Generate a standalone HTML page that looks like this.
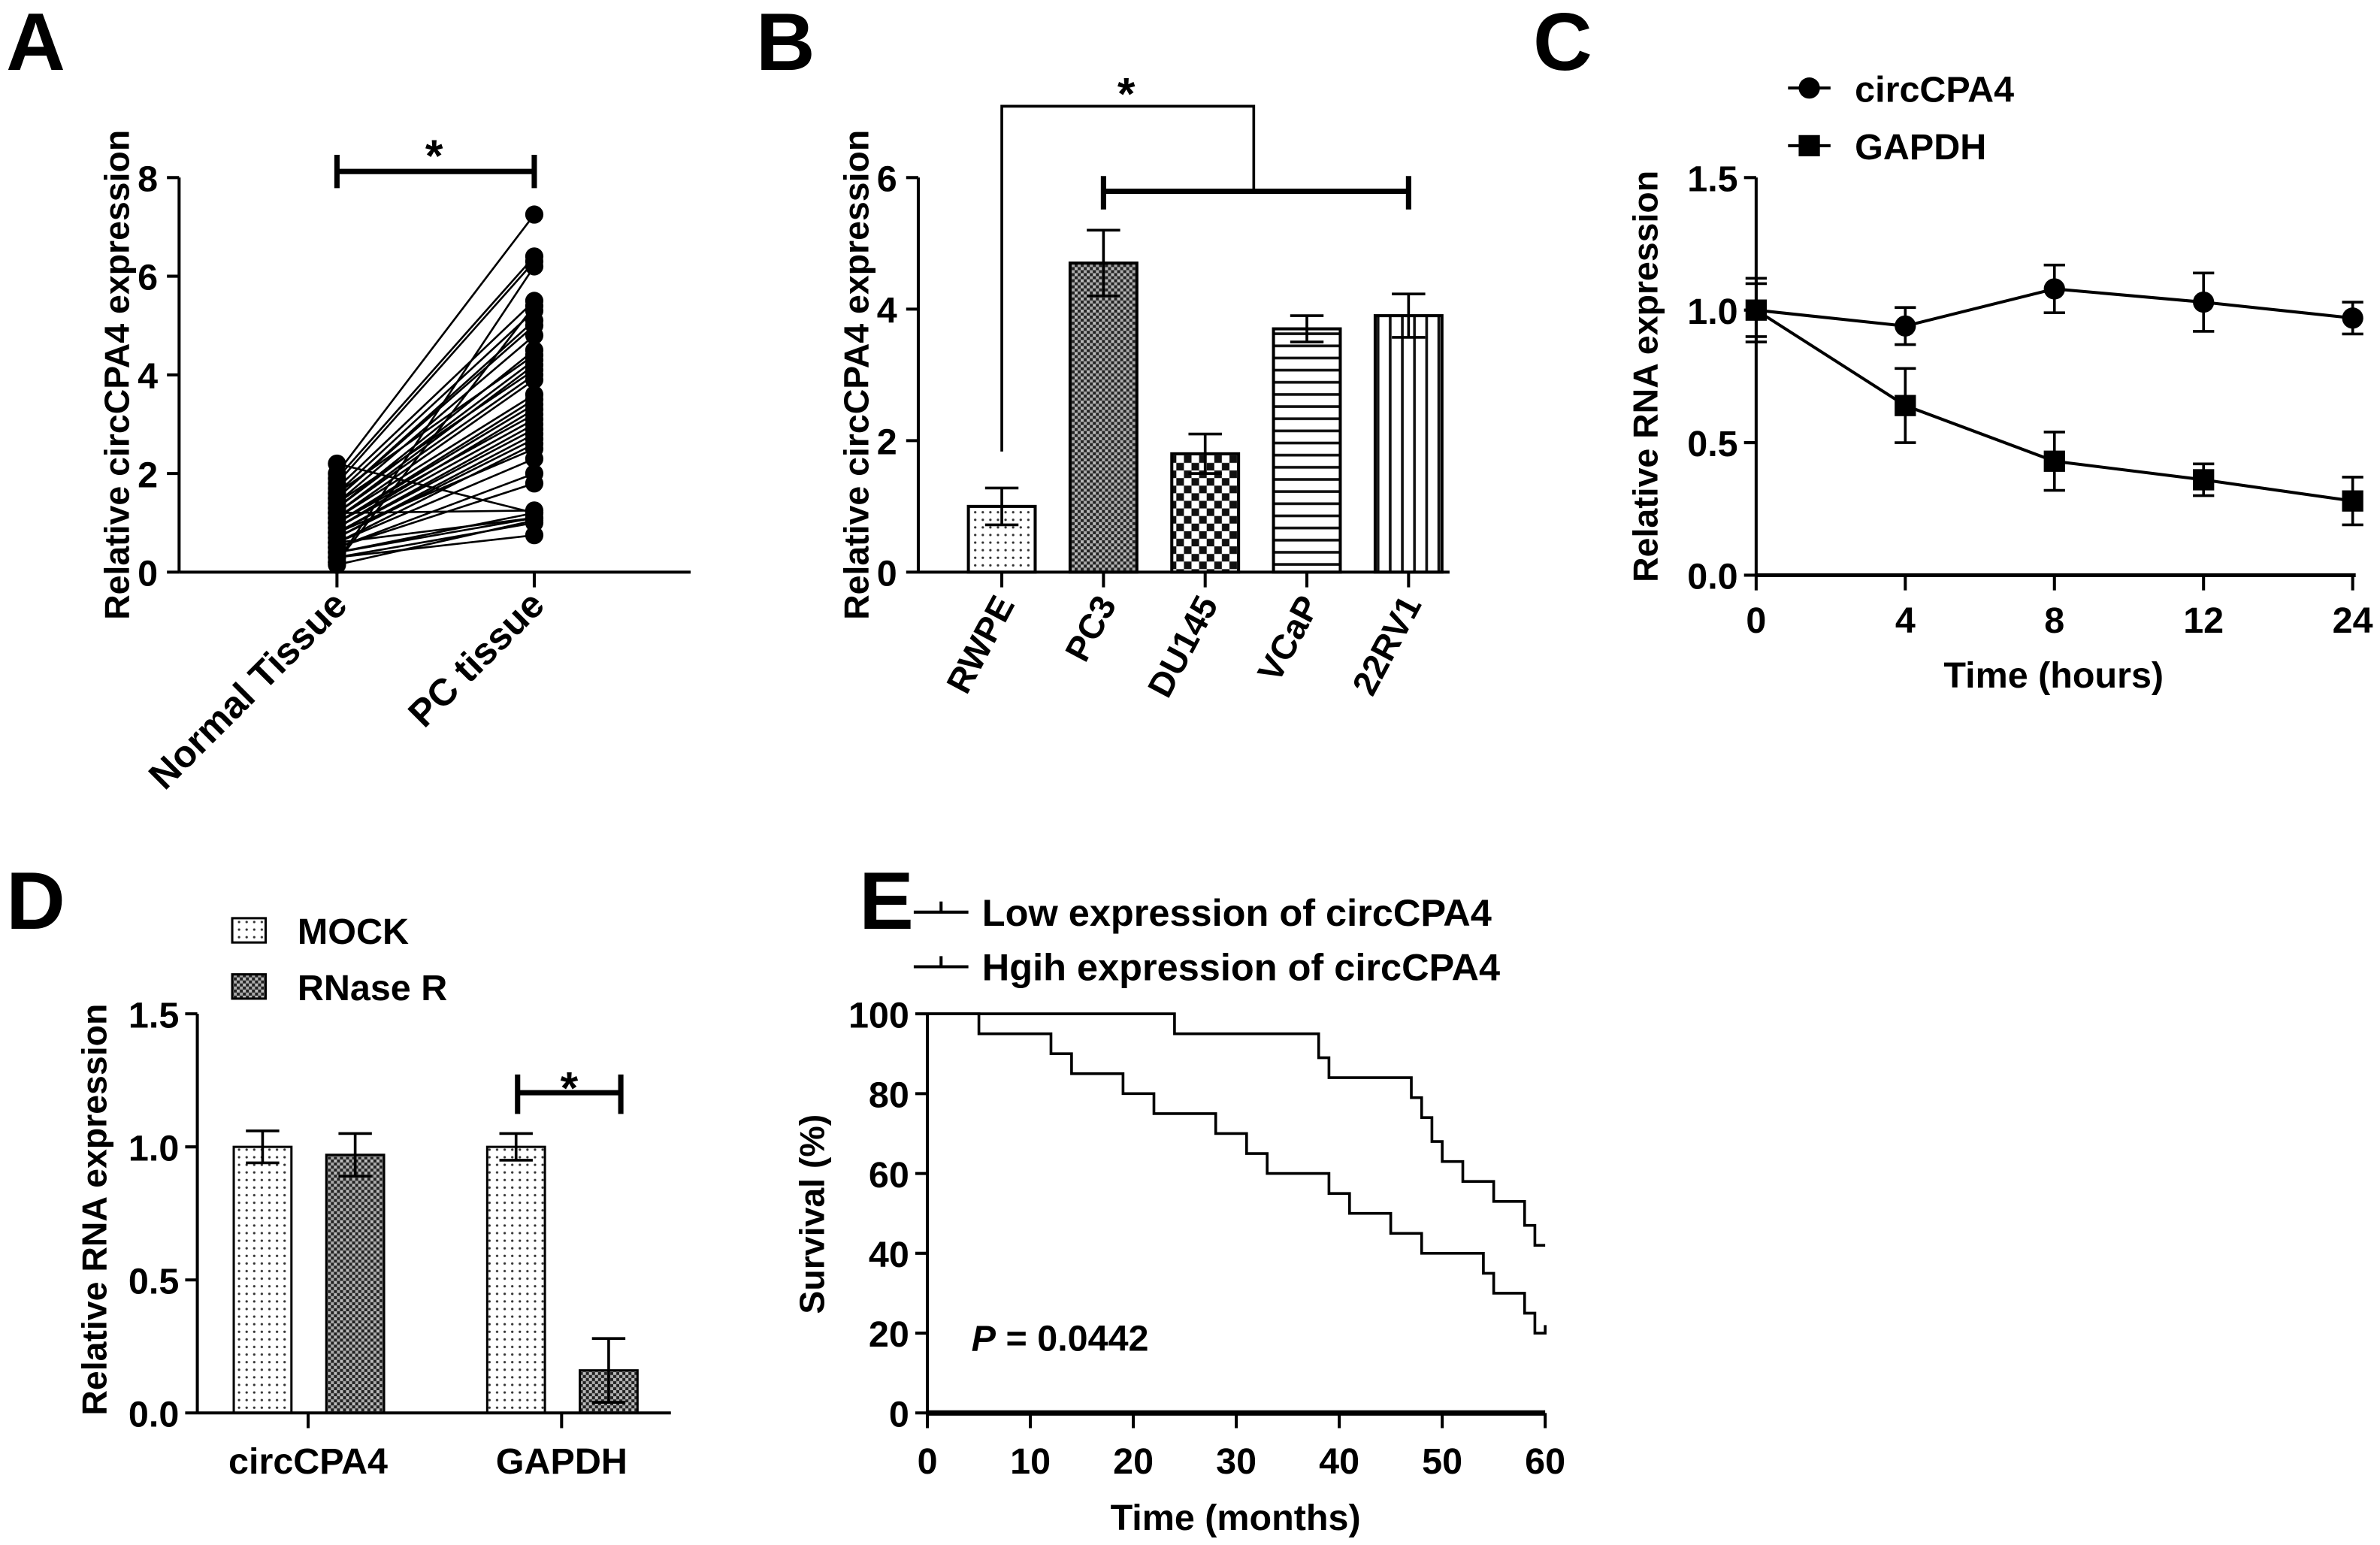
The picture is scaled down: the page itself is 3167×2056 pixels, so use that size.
<!DOCTYPE html>
<html><head><meta charset="utf-8">
<style>
html,body{margin:0;padding:0;background:#fff;}
svg{display:block;font-family:"Liberation Sans",Arial,sans-serif;font-weight:bold;}
</style></head>
<body>
<svg id="fig" width="3167" height="2056" viewBox="0 0 1568 1018" preserveAspectRatio="none" xmlns="http://www.w3.org/2000/svg">
<defs>
<pattern id="pDots" width="5" height="5" patternUnits="userSpaceOnUse"><rect width="5" height="5" fill="#fff"/><circle cx="2.5" cy="2.5" r="0.8" fill="#333"/></pattern>
<pattern id="pCross" width="4" height="4" patternUnits="userSpaceOnUse"><rect width="4" height="4" fill="#222"/><rect x="0" y="0" width="2" height="2" fill="#bbb"/><rect x="2" y="2" width="2" height="2" fill="#aaa"/></pattern>
<pattern id="pCheck" width="10" height="10" patternUnits="userSpaceOnUse"><rect width="10" height="10" fill="#fff"/><rect width="5" height="5" fill="#111"/><rect x="5" y="5" width="5" height="5" fill="#111"/></pattern>
<pattern id="pHoriz" width="8" height="8" patternUnits="userSpaceOnUse"><rect width="8" height="8" fill="#fff"/><rect y="3" width="8" height="1.8" fill="#111"/></pattern>
<pattern id="pVert" width="8" height="8" patternUnits="userSpaceOnUse"><rect width="8" height="8" fill="#fff"/><rect x="3" width="1.8" height="8" fill="#111"/></pattern>
</defs>
<g id="root"></g>
</svg>
<script>
// ---------- data ----------
const aNormal=[2.2,2.0,1.9,1.8,1.7,1.6,1.5,1.5,1.4,1.3,1.3,1.2,1.2,1.1,1.1,1.0,1.0,0.9,0.9,0.8,0.8,0.7,0.7,0.6,0.6,0.5,0.5,0.4,0.4,0.3,0.3,0.2,0.2,1.6,1.0,0.8,1.4,1.2,0.6,0.15];
const aPC=[1.2,7.25,6.4,6.3,5.5,5.3,5.1,5.0,4.8,4.5,4.3,4.2,4.0,3.9,3.6,3.5,3.4,3.3,3.1,3.0,2.9,2.8,2.7,2.6,2.3,2.0,1.8,1.2,1.1,1.0,0.75,6.2,5.4,4.4,3.2,2.5,4.1,1.25,1.1,1.05];
const bCats=["RWPE","PC3","DU145","VCaP","22RV1"];
const bVals=[1.0,4.7,1.8,3.7,3.9];
const bErr=[0.28,0.5,0.3,0.2,0.33];
const bFills=["url(#pDots)","url(#pCross)","url(#pCheck)","url(#pHoriz)","url(#pVert)"];
const cTimes=["0","4","8","12","24"];
const cCirc=[1.0,0.94,1.08,1.03,0.97];
const cCircErr=[0.12,0.07,0.09,0.11,0.06];
const cGapdh=[1.0,0.64,0.43,0.36,0.28];
const cGapdhErr=[0.1,0.14,0.11,0.06,0.09];
const dCats=["circCPA4","GAPDH"];
const dMock=[1.0,1.0];
const dMockErr=[0.06,0.05];
const dRnase=[0.97,0.16];
const dRnaseErr=[0.08,0.12];
const eHighT=[0,24,38,39,47,48,49,50,52,55,58,59,60];
const eHighS=[100,95,89,84,79,74,68,63,58,53,47,42,42];
const eLowT=[0,5,12,14,19,22,28,31,33,39,41,45,48,54,55,58,59,60];
const eLowS=[100,95,90,85,80,75,70,65,60,55,50,45,40,35,30,25,20,22];

const NS="http://www.w3.org/2000/svg";
const root=document.getElementById('root');
const TK=24, TT=23;
function el(tag,attrs,parent){const e=document.createElementNS(NS,tag);for(const k in attrs)e.setAttribute(k,attrs[k]);(parent||root).appendChild(e);return e;}
function line(x1,y1,x2,y2,w,p){return el('line',{x1,y1,x2,y2,stroke:'#000','stroke-width':w||2.2},p);}
function text(x,y,s,size,anchor,p,extra){const t=el('text',Object.assign({x,y,'font-size':size,'text-anchor':anchor||'middle',fill:'#000'},extra||{}),p);t.textContent=s;return t;}
function grp(name){const g=el('g',{});return g;}

[["A",4,46],["B",498,46],["C",1010,46],["D",4,612],["E",566,612]].forEach(([s,x,y])=>{
  const t=text(x,y,s,54,'start');
  
  
});

// ---------- Panel A ----------
(function(){
  const g=grp('panel-a');
  const X0=118,Y0=377,Y8=117,xN=222,xP=352;
  const y=v=>Y0-(v/8)*(Y0-Y8);
  line(X0,Y0,455,Y0,2,g);line(X0,Y8,X0,Y0,2,g);
  [0,2,4,6,8].forEach(v=>{line(X0-8,y(v),X0,y(v),2,g);text(X0-14,y(v)+9,String(v),TK,'end',g);});
  line(xN,Y0,xN,Y0+10,2,g);line(xP,Y0,xP,Y0+10,2,g);
  const t=text(0,0,'Relative circCPA4 expression',TT,'middle',g,{transform:`translate(85,247) rotate(-90)`});
  
  text(0,0,'Normal Tissue',25,'end',g,{transform:`translate(230,400) rotate(-45)`});
  text(0,0,'PC tissue',25,'end',g,{transform:`translate(360,400) rotate(-45)`});
  for(let i=0;i<aNormal.length;i++){
    const l=line(xN,y(aNormal[i]),xP,y(aPC[i]),1.3,g);
    
    
  }
  for(let i=0;i<aNormal.length;i++){
    const c1=el('circle',{cx:xN,cy:y(aNormal[i]),r:6,fill:'#000'},g);
    
    
    const c2=el('circle',{cx:xP,cy:y(aPC[i]),r:6,fill:'#000'},g);
    
    
  }
  line(xN,113,xP,113,3.5,g);line(xN,102,xN,124,3.5,g);line(xP,102,xP,124,3.5,g);
  text(286,113,'*',30,'middle',g);
})();

// ---------- Panel B ----------
(function(){
  const g=grp('panel-b');
  const X0=605,Y0=377,Y6=117,bw=44,step=67,x1=660;
  const y=v=>Y0-(v/6)*(Y0-Y6);
  const xc=i=>x1+i*step;
  [0,2,4,6].forEach(v=>{line(X0-8,y(v),X0,y(v),2,g);text(X0-14,y(v)+9,String(v),TK,'end',g);});
  const t=text(0,0,'Relative circCPA4 expression',TT,'middle',g,{transform:`translate(572,247) rotate(-90)`});
  
  bCats.forEach((c,i)=>{
    const r=el('rect',{x:xc(i)-bw/2,y:y(bVals[i]),width:bw,height:Y0-y(bVals[i]),fill:bFills[i],stroke:'#000','stroke-width':2},g);
    
    
    const e1=y(bVals[i]+bErr[i]),e0=y(bVals[i]-bErr[i]);
    line(xc(i),e1,xc(i),e0,1.8,g);line(xc(i)-11,e1,xc(i)+11,e1,1.8,g);line(xc(i)-11,e0,xc(i)+11,e0,1.8,g);
    line(xc(i),Y0,xc(i),Y0+10,2,g);
    text(0,0,c,TT,'end',g,{transform:`translate(${xc(i)+9},398) rotate(-62)`});
  });
  line(X0,Y0,955,Y0,2,g);line(X0,Y6,X0,Y0,2,g);
  el('polyline',{points:`${xc(0)},${y(bVals[0]+bErr[0])-24} ${xc(0)},70 826,70 826,126`,fill:'none',stroke:'#000','stroke-width':1.8},g);
  line(xc(1),126,xc(4),126,3.5,g);line(xc(1),116,xc(1),138,3.5,g);line(xc(4),116,xc(4),138,3.5,g);
  text(742,72,'*',30,'middle',g);
})();

// ---------- Panel C ----------
(function(){
  const g=grp('panel-c');
  const X0=1157,Y0=379,Y15=117,step=98.25;
  const y=v=>Y0-(v/1.5)*(Y0-Y15);
  const x=i=>X0+i*step;
  line(X0,Y0,1552,Y0,2.5,g);line(X0,Y15,X0,Y0,2,g);
  [0,0.5,1.0,1.5].forEach(v=>{line(X0-8,y(v),X0,y(v),2,g);text(X0-12,y(v)+9,v.toFixed(1),TK,'end',g);});
  cTimes.forEach((s,i)=>{line(x(i),Y0,x(i),Y0+10,2,g);text(x(i),Y0+38,s,TK,'middle',g);});
  text(1353,453,'Time (hours)',TK,'middle',g);
  const t=text(0,0,'Relative RNA expression',TT,'middle',g,{transform:`translate(1092,248) rotate(-90)`});
  
  function series(vals,errs,shape,name){
    el('polyline',{points:vals.map((v,i)=>`${x(i)},${y(v)}`).join(' '),fill:'none',stroke:'#000','stroke-width':2},g);
    vals.forEach((v,i)=>{
      const e1=y(v+errs[i]),e0=y(v-errs[i]);
      line(x(i),e1,x(i),e0,1.8,g);line(x(i)-7,e1,x(i)+7,e1,1.8,g);line(x(i)-7,e0,x(i)+7,e0,1.8,g);
      const m=shape==='c'?el('circle',{cx:x(i),cy:y(v),r:7,fill:'#000'},g):el('rect',{x:x(i)-7,y:y(v)-7,width:14,height:14,fill:'#000'},g);
      
      
    });
  }
  series(cGapdh,cGapdhErr,'s','gapdh');
  series(cCirc,cCircErr,'c','circcpa4');
  line(1178,58,1206,58,2,g);el('circle',{cx:1192,cy:58,r:7,fill:'#000'},g);text(1222,67,'circCPA4',TK,'start',g);
  line(1178,96,1206,96,2,g);el('rect',{x:1185,y:89,width:14,height:14,fill:'#000'},g);text(1222,105,'GAPDH',TK,'start',g);
})();

// ---------- Panel D ----------
(function(){
  const g=grp('panel-d');
  const X0=130,Y0=931,Y15=668,bw=38,centers=[173,340],off=[0,61];
  const y=v=>Y0-(v/1.5)*(Y0-Y15);
  [0,0.5,1.0,1.5].forEach(v=>{line(X0-8,y(v),X0,y(v),2,g);text(X0-12,y(v)+9,v.toFixed(1),TK,'end',g);});
  const t=text(0,0,'Relative RNA expression',TT,'middle',g,{transform:`translate(70,797) rotate(-90)`});
  
  dCats.forEach((c,i)=>{
    [[dMock,dMockErr,'url(#pDots)','mock'],[dRnase,dRnaseErr,'url(#pCross)','rnase']].forEach(([vals,errs,fill,n],k)=>{
      const cx=centers[i]+off[k];
      const r=el('rect',{x:cx-bw/2,y:y(vals[i]),width:bw,height:Y0-y(vals[i]),fill,stroke:'#000','stroke-width':1.5},g);
      
      
      const e1=y(vals[i]+errs[i]),e0=y(vals[i]-errs[i]);
      line(cx,e1,cx,e0,1.8,g);line(cx-11,e1,cx+11,e1,1.8,g);line(cx-11,e0,cx+11,e0,1.8,g);
    });
    const mid=centers[i]+30;
    line(mid,Y0,mid,Y0+10,2,g);text(mid,Y0+40,c,TK,'middle',g);
  });
  line(X0,Y0,442,Y0,2,g);line(X0,Y15,X0,Y0,2,g);
  line(341,720,409,720,3.5,g);line(341,708,341,734,3.5,g);line(409,708,409,734,3.5,g);
  text(375,727,'*',30,'middle',g);
  el('rect',{x:153,y:605,width:22,height:16,fill:'url(#pDots)',stroke:'#000','stroke-width':1.5},g);text(196,622,'MOCK',TK,'start',g);
  el('rect',{x:153,y:642,width:22,height:16,fill:'url(#pCross)',stroke:'#000','stroke-width':1.5},g);text(196,659,'RNase R',TK,'start',g);
})();

// ---------- Panel E ----------
(function(){
  const g=grp('panel-e');
  const X0=611,X60=1018,Y0=931,Y100=668;
  const x=t=>X0+(t/60)*(X60-X0);
  const y=v=>Y0-(v/100)*(Y0-Y100);
  [0,20,40,60,80,100].forEach(v=>{line(X0-8,y(v),X0,y(v),2,g);text(X0-12,y(v)+9,String(v),TK,'end',g);});
  [0,10,20,30,40,50,60].forEach(v=>{line(x(v),Y0,x(v),Y0+10,2,g);text(x(v),Y0+40,String(v),TK,'middle',g);});
  line(X0,Y0,X60,Y0,3.5,g);line(X0,Y100,X0,Y0,2,g);
  text(814,1008,'Time (months)',TK,'middle',g);
  const t=text(0,0,'Survival (%)',TT,'middle',g,{transform:`translate(543,800) rotate(-90)`});
  
  function step(ts,ss,name){
    let pts=`${x(ts[0])},${y(ss[0])}`;
    for(let i=1;i<ts.length;i++){pts+=` ${x(ts[i])},${y(ss[i-1])} ${x(ts[i])},${y(ss[i])}`;}
    const p=el('polyline',{points:pts,fill:'none',stroke:'#000','stroke-width':1.8},g);
    
    
  }
  step(eHighT,eHighS,'high-expression-curve');
  step(eLowT,eLowS,'low-expression-curve');
  line(602,601,638,601,2,g);line(620,594,620,601,2,g);text(647,610,'Low expression of circCPA4',25,'start',g);
  line(602,637,638,637,2,g);line(620,630,620,637,2,g);text(647,646,'Hgih expression of circCPA4',25,'start',g);
  const pt=text(640,890,'',24,'start',g);
  const ts=el('tspan',{'font-style':'italic'},pt);ts.textContent='P';
  const ts2=el('tspan',{},pt);ts2.textContent=' = 0.0442';
})();
</script>
</body></html>
